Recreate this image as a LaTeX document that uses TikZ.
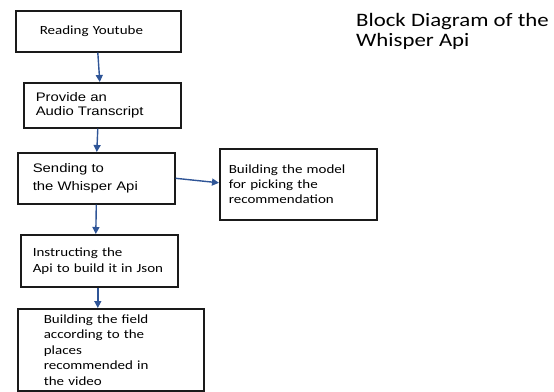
\documentclass[tikz,border=0pt]{standalone}
\usepackage{fontspec}
\usetikzlibrary{arrows.meta}
\newfontfamily\calfont[FakeStretch=1.2]{Carlito}
\newfontfamily\arifont[FakeStretch=1.2]{Liberation Sans}
\definecolor{arrowblue}{HTML}{2F5597}
\definecolor{boxline}{HTML}{1A1A1A}
\tikzset{
  blk/.style={draw=boxline, line width=1.6pt, rectangle, anchor=north west, align=left, inner ysep=1pt},
  calt/.style={font=\calfont\fontsize{12.5}{15.5}\selectfont},
  arit/.style={font=\arifont\fontsize{12.4}{16}\selectfont},
  conn/.style={draw=arrowblue, line width=1.4pt, -{Triangle[length=7pt,width=7pt]}}
}
\begin{document}
\begin{tikzpicture}[x=1pt,y=-1pt]
\useasboundingbox (0,0) rectangle (554,391);
\node[blk, calt, inner xsep=24pt, text width=117pt, minimum height=41pt] (b1) at (15,10) {Reading Youtube};
\node[blk, arit, inner xsep=12pt, text width=133pt, minimum height=45pt, font=\arifont\fontsize{12.4}{14.5}\selectfont] (b2) at (23,82) {Provide an\\Audio Transcript};
\node[blk, arit, inner xsep=15pt, text width=127pt, minimum height=51pt, font=\arifont\fontsize{12.4}{18}\selectfont] (b3) at (17,152) {Sending to\\the Whisper Api};
\node[blk, calt, inner xsep=9pt, text width=139pt, minimum height=71pt, font=\calfont\fontsize{12.5}{15}\selectfont] (b4) at (219,148) {Building the model\\for picking the\\recommendation};
\node[blk, calt, inner xsep=12pt, text width=133pt, minimum height=52pt, font=\calfont\fontsize{12.5}{16}\selectfont] (b5) at (20,234) {Instructing the\\Api to build it in Json};
\node[blk, calt, inner xsep=26pt, text width=134pt, minimum height=82pt] (b6) at (17,308) {Building the field\\according to the\\places\\recommended in\\the video};
\node[anchor=base west, align=left, inner sep=0pt, font=\calfont\fontsize{19}{20}\selectfont] (title) at (356,46) {Block Diagram of the\\Whisper Api};
\draw[conn] ([xshift=-0.5pt]b1.south) -- ([xshift=-2.5pt]b2.north);
\draw[conn] ([xshift=-4.5pt]b2.south) -- ([xshift=0.5pt]b3.north);
\draw[conn] (b3.east) -- ([yshift=1.5pt]b4.west);
\draw[conn] (b3.south) -- ([xshift=-3.5pt]b5.north);
\draw[conn] ([xshift=-1.5pt]b5.south) -- ([xshift=-13pt]b6.north);
\end{tikzpicture}
\end{document}
